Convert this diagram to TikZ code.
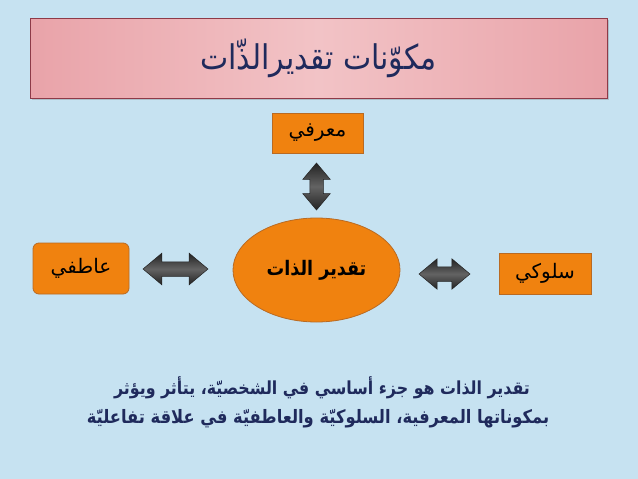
\documentclass[tikz,border=0pt]{standalone}
\usepackage{fontspec}
\usetikzlibrary{shapes.geometric,shapes.arrows,shadows}
\TeXXeTstate=1
\newfontfamily\arabicfont[Script=Arabic]{DejaVu Sans}
\newfontfamily\arabicnarrow[Script=Arabic,FakeStretch=0.88]{DejaVu Sans}
\definecolor{bg}{HTML}{C6E2F1}
\definecolor{pinkedge}{HTML}{E9A3A9}
\definecolor{pinkmid}{HTML}{F2C3C6}
\definecolor{titleborder}{HTML}{8E3A48}
\definecolor{navy}{HTML}{1F2A5C}
\definecolor{orangefill}{HTML}{F0820F}
\definecolor{orangeborder}{HTML}{B96A22}
\definecolor{arrowdark}{HTML}{232323}
\definecolor{arrowmid}{HTML}{636363}
\tikzset{
  titlebox/.style={draw=titleborder, line width=0.8pt, left color=pinkedge, right color=pinkedge, middle color=pinkmid,
    drop shadow={shadow xshift=1.5pt, shadow yshift=-2pt, opacity=0.35}, inner sep=0pt, text=navy},
  orangebox/.style={draw=orangeborder, line width=0.8pt, fill=orangefill, inner sep=0pt, text=black},
  dblarrow/.style={double arrow, draw=arrowdark, line width=0.5pt, top color=arrowdark, bottom color=arrowdark, middle color=arrowmid,
    inner xsep=0pt, double arrow tip angle=80},
  bodytext/.style={text=navy, align=center, inner sep=0pt}
}
\begin{document}
\begin{tikzpicture}[x=1pt,y=-1pt]
\fill[bg] (0,0) rectangle (638,479);
\useasboundingbox (0,0) rectangle (638,479);
\node[titlebox, minimum width=577pt, minimum height=80pt] (title) at (318.5,58)
  {\arabicnarrow\fontsize{34}{38}\selectfont\beginR مكوّنات تقديرالذّات\endR};
\node[orangebox, minimum width=91pt, minimum height=40pt] (cog) at (317.5,133)
  {\arabicfont\fontsize{20}{24}\selectfont\beginR معرفي\endR};
\node[orangebox, ellipse, minimum width=167pt, minimum height=104pt] (self) at (316.5,270)
  {\arabicnarrow\bfseries\fontsize{20}{24}\selectfont\beginR تقدير الذات\endR};
\node[orangebox, rounded corners=6pt, minimum width=96pt, minimum height=51pt] (emo) at (81,268.5)
  {\arabicfont\fontsize{20}{24}\selectfont\beginR عاطفي\endR};
\node[orangebox, minimum width=92pt, minimum height=41pt] (beh) at (545,273.5)
  {\arabicfont\fontsize{20}{24}\selectfont\beginR سلوكي\endR};
\node[dblarrow, rotate=90, inner ysep=6.5pt, double arrow head extend=7pt, minimum height=47pt] (a1) at (316.5,186.5) {};
\node[dblarrow, inner ysep=7pt, double arrow head extend=8.5pt, minimum height=65pt] (a2) at (175.5,269) {};
\node[dblarrow, inner ysep=7pt, double arrow head extend=8pt, minimum height=51pt] (a3) at (444.5,274) {};
\node[bodytext] (l1) at (322,388)
  {\arabicnarrow\bfseries\fontsize{18}{22}\selectfont\beginR تقدير الذات هو جزء أساسي في الشخصيّة، يتأثر ويؤثر\endR};
\node[bodytext] (l2) at (318,419)
  {\arabicnarrow\bfseries\fontsize{18.5}{22}\selectfont\beginR بمكوناتها  المعرفية، السلوكيّة والعاطفيّة في علاقة تفاعليّة\endR};
\end{tikzpicture}
\end{document}
